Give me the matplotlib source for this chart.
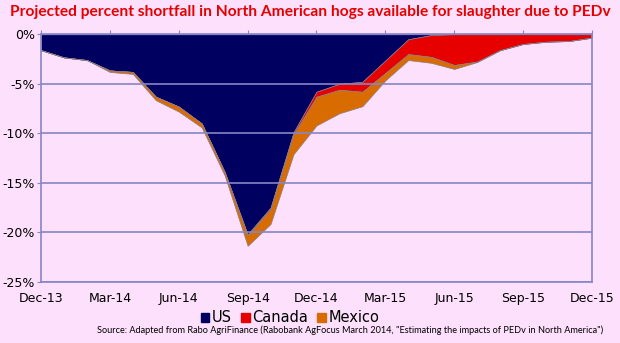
import matplotlib
matplotlib.use("Agg")
import matplotlib.pyplot as plt
from matplotlib.patches import Patch

# Months from Dec-13 to Dec-15, shortfall in percentage points (negative)
months = list(range(25))
tick_pos = [0, 3, 6, 9, 12, 15, 18, 21, 24]
tick_labels = ["Dec-13", "Mar-14", "Jun-14", "Sep-14", "Dec-14",
               "Mar-15", "Jun-15", "Sep-15", "Dec-15"]

us = [-1.6, -2.33, -2.6, -3.65, -3.8, -6.3, -7.3, -9.0, -13.9, -20.2,
      -17.5, -9.9, -5.8, -5.0, -4.8, -2.65, -0.5, -0.08, 0, 0,
      0, 0, 0, 0, 0]
canada = [0, 0, 0, 0, 0, 0, 0, 0, 0, -0.1,
          -0.15, -0.2, -0.5, -0.6, -1.0, -1.25, -1.5, -2.2, -3.1, -2.75,
          -1.6, -0.98, -0.75, -0.68, -0.34]
mexico = [0, 0, 0, -0.15, -0.2, -0.35, -0.5, -0.4, -0.35, -1.05,
          -1.5, -2.0, -2.9, -2.37, -1.46, -0.75, -0.6, -0.6, -0.4, -0.05,
          0, 0, 0, 0, 0]

bg = "#fde0fb"
grid_col = "#8585c6"
colors = ["#000060", "#e60000", "#d96c00"]

fig = plt.figure(figsize=(6.2, 3.43), dpi=100, facecolor=bg)
ax = fig.add_axes([0.0661, 0.178, 0.8887, 0.722])
ax.set_facecolor(bg)

ax.stackplot(months, us, canada, mexico, colors=colors,
             edgecolor="#8a7a8a", linewidth=0.5)

ax.set_xlim(0, 24)
ax.set_ylim(-25, 0)
ax.set_yticks([0, -5, -10, -15, -20, -25])
ax.set_yticklabels(["0%", "-5%", "-10%", "-15%", "-20%", "-25%"])
ax.set_xticks(tick_pos)
ax.set_xticklabels(tick_labels)

ax.yaxis.grid(True, color=grid_col, linewidth=1.2)
ax.set_axisbelow(False)
for s in ax.spines.values():
    s.set_color(grid_col)
    s.set_linewidth(1.2)

ax.tick_params(axis="x", top=True, bottom=False, labeltop=False,
               labelbottom=True, direction="out", length=3,
               color=grid_col, labelsize=9, pad=4)
ax.tick_params(axis="y", direction="out", length=3, color=grid_col,
               labelsize=9, pad=1.5)

fig.text(0.5, 0.966, "Projected percent shortfall in North American hogs available for slaughter due to PEDv",
         ha="center", va="center", color="#e60000", fontsize=11.2,
         fontweight="bold", family="Lato")

handles = [Patch(color=c) for c in colors]
fig.legend(handles, ["US", "Canada", "Mexico"], loc="center",
           bbox_to_anchor=(0.468, 0.073), ncol=3, frameon=False,
           fontsize=10.5, handlelength=0.6, handleheight=0.6,
           handletextpad=0.2, columnspacing=0.6)

fig.text(0.973, 0.037, 'Source: Adapted from Rabo AgriFinance (Rabobank AgFocus March 2014, "Estimating the impacts of PEDv in North America")',
         ha="right", va="center", fontsize=6.55, family="Lato")

fig.savefig("out.png", dpi=100, facecolor=bg)
